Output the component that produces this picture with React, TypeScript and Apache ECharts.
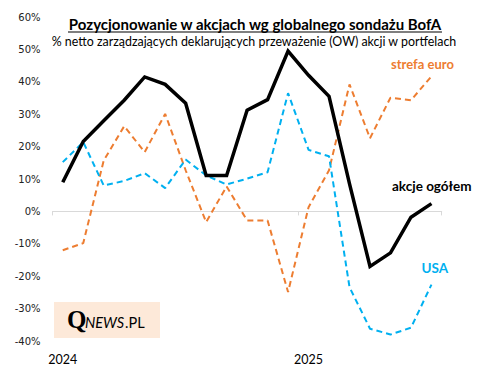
import React, { useEffect, useRef } from "react";
import * as echarts from "echarts";

const categories = [
  "2024-01", "2024-02", "2024-03", "2024-04", "2024-05", "2024-06", "2024-07", "2024-08", "2024-09", "2024-10", "2024-11", "2024-12",
  "2025-01", "2025-02", "2025-03", "2025-04", "2025-05", "2025-06", "2025-07",
];
const xTickLabels: Record<number, string> = { 0: "2024", 12: "2025" };
const akcjeOgolem = [9, 21.6, 28, 34.3, 41.5, 39.2, 33.4, 11.1, 11.1, 31.2, 34.5, 49.5, 42, 35.5, 8.5, -17, -12.8, -1.8, 2.4];
const strefaEuro = [-12, -9.8, 15.7, 26.3, 18.3, 30.1, 12.7, -3.3, 7.7, -2.8, -2.8, -24.9, 1.3, 12.7, 39.2, 22.6, 35.1, 34.3, 41.7];
const usa = [15.2, 21.4, 8, 9.4, 11.8, 7.2, 16, 11.1, 8.3, 10.1, 12.1, 36.5, 19, 17, -23.4, -36.2, -38, -35.9, -22.6];
const yMin = -40;
const yMax = 60;
const yStep = 10;

const titleText = "Pozycjonowanie w akcjach wg globalnego sondażu BofA";
const subtitleText = "% netto zarządzających deklarujących przeważenie (OW) akcji w portfelach";

const ORANGE = "#ed7d31";
const BLUE = "#00b0f0";
const FONT = "Lato, 'Open Sans', sans-serif";

export default function App() {
  const ref = useRef<HTMLDivElement>(null);
  useEffect(() => {
    if (!ref.current) return;
    const chart = echarts.init(ref.current, undefined, { renderer: "svg" });
    chart.setOption({
      animation: false,
      backgroundColor: "#ffffff",
      grid: { left: 52.5, right: 42.3, top: 17, bottom: 37, containLabel: false },
      xAxis: {
        type: "category",
        data: categories,
        boundaryGap: true,
        axisLine: { show: true, onZero: true, lineStyle: { color: "#d9d9d9", width: 1 } },
        axisTick: {
          show: true,
          length: 4,
          interval: (i: number) => i === 0 || i === 12,
          lineStyle: { color: "#d9d9d9" },
        },
        axisLabel: {
          show: true,
          interval: (i: number) => i === 0 || i === 12,
          formatter: (_v: string, i: number) => xTickLabels[i] ?? "",
          fontFamily: FONT,
          fontSize: 12.5,
          color: "#000",
          margin: 12,
        },
        splitLine: { show: false },
      },
      yAxis: {
        type: "value",
        min: yMin,
        max: yMax,
        interval: yStep,
        axisLine: { show: false },
        axisTick: { show: false },
        splitLine: { show: false },
        axisLabel: {
          formatter: "{value}%",
          fontFamily: "'DejaVu Sans', sans-serif",
          fontSize: 10,
          color: "#222",
          margin: 12,
        },
      },
      series: [
        {
          name: "strefa euro",
          type: "line",
          data: strefaEuro,
          symbol: "none",
          z: 2,
          lineStyle: { color: ORANGE, width: 2, type: [6, 4] },
        },
        {
          name: "USA",
          type: "line",
          data: usa,
          symbol: "none",
          z: 3,
          lineStyle: { color: BLUE, width: 2, type: [6, 4] },
        },
        {
          name: "akcje ogółem",
          type: "line",
          data: akcjeOgolem,
          symbol: "none",
          z: 4,
          lineStyle: { color: "#000", width: 3.5, join: "miter" },
        },
      ],
      graphic: [
        {
          type: "text",
          x: 255,
          y: 23.5,
          z: 10,
          style: { text: titleText, font: `bold 15px ${FONT}`, fill: "#000", textAlign: "center", verticalAlign: "middle" },
        },
        {
          type: "line",
          z: 10,
          shape: { x1: 68, y1: 32, x2: 442, y2: 32 },
          style: { stroke: "#000", lineWidth: 1.2 },
        },
        {
          type: "text",
          x: 254,
          y: 41.5,
          z: 10,
          style: { text: subtitleText, font: `12.4px ${FONT}`, fill: "#000", textAlign: "center", verticalAlign: "middle" },
        },
        {
          type: "text",
          x: 391,
          y: 64,
          z: 10,
          style: { text: "strefa euro", font: `bold 13px ${FONT}`, fill: ORANGE, verticalAlign: "middle" },
        },
        {
          type: "text",
          x: 392,
          y: 186,
          z: 10,
          style: { text: "akcje ogółem", font: `bold 13.5px ${FONT}`, fill: "#000", verticalAlign: "middle" },
        },
        {
          type: "text",
          x: 421.5,
          y: 268,
          z: 10,
          style: { text: "USA", font: `bold 13.5px ${FONT}`, fill: BLUE, verticalAlign: "middle" },
        },
        {
          type: "rect",
          z: 10,
          shape: { x: 54, y: 302, width: 106, height: 36 },
          style: { fill: "#fde9d9" },
        },
        {
          type: "text",
          x: 67,
          y: 332,
          z: 11,
          style: { text: "Q", font: `bold 25px 'Liberation Serif', serif`, fill: "#000", verticalAlign: "bottom" },
        },
        {
          type: "text",
          x: 85,
          y: 330,
          z: 11,
          style: { text: "NEWS", font: `italic 14.5px ${FONT}`, fill: "#000", verticalAlign: "bottom" },
        },
        {
          type: "text",
          x: 125,
          y: 330,
          z: 11,
          style: { text: ".PL", font: `14.5px ${FONT}`, fill: "#000", verticalAlign: "bottom" },
        },
      ],
    });
    return () => chart.dispose();
  }, []);
  return (
    <div
      ref={ref}
      style={{ position: "fixed", left: 0, top: 0, width: 484, height: 378, background: "#fff" }}
    />
  );
}
